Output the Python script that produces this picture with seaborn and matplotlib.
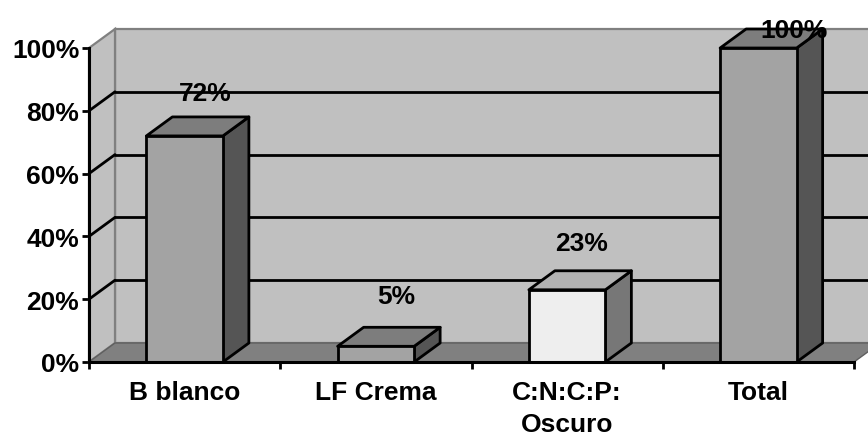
"""3D-look percentage bar chart drawn with seaborn."""

import matplotlib
matplotlib.use("Agg")
import matplotlib.pyplot as plt
from matplotlib.patches import Polygon
from matplotlib.transforms import Affine2D
import numpy as np
import seaborn as sns

# ── Data ──
categories = ["B blanco", "LF Crema", "C:N:C:P:\nOscuro", "Total"]
values = [72, 5, 23, 100]
value_labels = ["72%", "5%", "23%", "100%"]
y_ticks = [0, 20, 40, 60, 80, 100]
y_tick_labels = ["0%", "20%", "40%", "60%", "80%", "100%"]

# ── Colours ──
front_colors = ["#a3a3a3", "#a3a3a3", "#eeeeee", "#a3a3a3"]
top_colors = ["#7d7d7d", "#7d7d7d", "#b2b2b2", "#7d7d7d"]
side_colors = ["#555555", "#555555", "#777777", "#555555"]
WALL = "#c0c0c0"
FLOOR = "#808080"
EDGE = "#808080"

# label nudges from the bar's top centre, in pixels
label_dx = [21, 20, 14, 36]
label_dy = [43, 50, 47, 18]

DEPTH_X, DEPTH_Y = 26, 19
LW = 2.0
FS = 19

sns.set_theme(style="white")
plt.rcParams["font.family"] = ["Liberation Sans", "DejaVu Sans"]

fig = plt.figure(figsize=(8.68, 4.35), dpi=100)
ax = fig.add_axes([89 / 868, (435 - 363) / 435, (854 - 89) / 868, (363 - 49) / 435])
ax.patch.set_alpha(0)

sns.barplot(x=categories, y=values, hue=categories, palette=front_colors,
            legend=False, width=0.4, saturation=1, edgecolor="black",
            linewidth=LW, ax=ax, zorder=5)
ax.set_xlim(-0.5, 3.5)
ax.set_ylim(0, 100)

back = ax.transData + Affine2D().translate(DEPTH_X, DEPTH_Y)

# back wall, left wall and floor
ax.add_patch(Polygon([(-0.5, 0), (3.7, 0), (3.7, 100), (-0.5, 100)], closed=True,
                     transform=back, facecolor=WALL, edgecolor=EDGE, linewidth=1.6,
                     clip_on=False, zorder=0))


def depth_face(x0, y0, x1, y1):
    """Corners of a face running from the front plane to the back plane."""
    p0 = ax.transData.transform((x0, y0))
    p1 = ax.transData.transform((x1, y1))
    off = np.array([DEPTH_X, DEPTH_Y])
    return np.array([p0, p1, p1 + off, p0 + off])


ax.add_patch(Polygon(depth_face(-0.5, 0, -0.5, 100), closed=True, transform=None,
                     facecolor=WALL, edgecolor=EDGE, linewidth=1.6, clip_on=False, zorder=1))
ax.add_patch(Polygon(depth_face(-0.5, 0, 3.5, 0), closed=True, transform=None,
                     facecolor=FLOOR, edgecolor="#5f5f5f", linewidth=1, clip_on=False, zorder=1))

# gridlines on the back wall and the left wall
for tick in y_ticks[1:-1]:
    ax.plot([-0.5, 3.7], [tick, tick], color="black", lw=LW, transform=back,
            clip_on=False, zorder=2)
    p = ax.transData.transform((-0.5, tick))
    ax.plot([p[0], p[0] + DEPTH_X], [p[1], p[1] + DEPTH_Y], color="black", lw=LW,
            transform=None, clip_on=False, zorder=2)

# bar top and side faces, taken from the seaborn bars
for i, bar in enumerate(ax.patches[:len(values)]):
    bar.set_clip_on(False)
    x0, x1 = bar.get_x(), bar.get_x() + bar.get_width()
    h = bar.get_height()
    ax.add_patch(Polygon(depth_face(x1, 0, x1, h), closed=True, transform=None,
                         facecolor=side_colors[i], edgecolor="black", linewidth=LW,
                         joinstyle="round", clip_on=False, zorder=4))
    ax.add_patch(Polygon(depth_face(x0, h, x1, h), closed=True, transform=None,
                         facecolor=top_colors[i], edgecolor="black", linewidth=LW,
                         joinstyle="round", clip_on=False, zorder=4))
    ax.annotate(value_labels[i], xy=(x0 + bar.get_width() / 2, h), xycoords="data",
                xytext=(label_dx[i] * 0.72, label_dy[i] * 0.72), textcoords="offset points",
                ha="center", va="center", fontsize=FS, fontweight="bold",
                color="black", annotation_clip=False, zorder=8)

# axes
sns.despine(ax=ax, top=True, right=True)
for side in ["left", "bottom"]:
    ax.spines[side].set_linewidth(2.2)
    ax.spines[side].set_color("black")
    ax.spines[side].set_zorder(7)

ax.set_yticks(y_ticks)
ax.set_yticklabels(y_tick_labels, fontsize=FS, fontweight="bold", color="black")
ax.tick_params(axis="y", length=5, width=2, color="black", pad=2, left=True)

ax.set_xticks(range(len(categories)))
ax.set_xticklabels(categories, fontsize=FS, fontweight="bold", color="black",
                   linespacing=1.4)
ax.tick_params(axis="x", which="major", length=0, pad=13)
ax.set_xticks(np.arange(-0.5, 4), minor=True)
ax.tick_params(axis="x", which="minor", length=5, width=2, color="black", bottom=True)
ax.set_xlabel("")
ax.set_ylabel("")

fig.savefig("out.png", dpi=100)
plt.close(fig)
